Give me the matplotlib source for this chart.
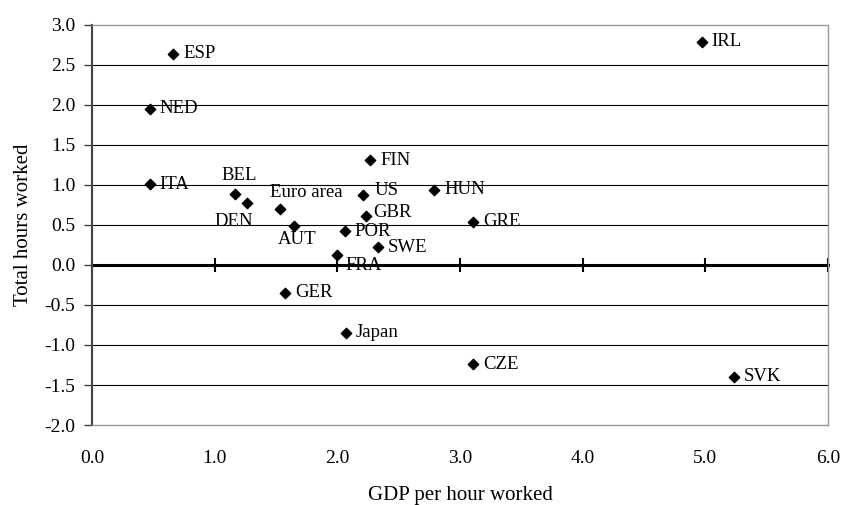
import matplotlib
matplotlib.use("Agg")
import matplotlib.pyplot as plt

countries = ["ESP", "NED", "ITA", "BEL", "DEN", "Euro area", "AUT", "FIN", "US", "GBR",
             "POR", "SWE", "FRA", "HUN", "GRE", "GER", "IRL", "Japan", "CZE", "SVK"]
gdp_per_hour = [0.66, 0.47, 0.47, 1.165, 1.26, 1.53, 1.65, 2.27, 2.21, 2.23,
                2.06, 2.33, 2.00, 2.79, 3.11, 1.575, 4.97, 2.07, 3.11, 5.23]
hours_worked = [2.64, 1.955, 1.01, 0.89, 0.77, 0.70, 0.49, 1.31, 0.87, 0.61,
                0.42, 0.22, 0.12, 0.94, 0.54, -0.35, 2.79, -0.85, -1.24, -1.40]

x_ticks = [0, 1, 2, 3, 4, 5, 6]
y_ticks = [-2.0, -1.5, -1.0, -0.5, 0.0, 0.5, 1.0, 1.5, 2.0, 2.5, 3.0]

# label offsets in pixels (dx, dy, ha, va)
offsets = {
    "BEL": (4, 18, "center", "center"),
    "DEN": (-13, -18, "center", "center"),
    "Euro area": (27, 16, "center", "center"),
    "AUT": (3, -14, "center", "center"),
    "FRA": (8, -10, "left", "center"),
    "US": (11, 5, "left", "center"),
    "GBR": (8, 4, "left", "center"),
}

plt.rcParams['font.family'] = ['Liberation Serif', 'DejaVu Serif']

fig = plt.figure(figsize=(8.43, 5.05), dpi=100)
ax = fig.add_axes([92/843, 1 - 425/505, (828-92)/843, 400/505])

ax.set_xlim(0, 6)
ax.set_ylim(-2, 3)

for yv in y_ticks:
    if yv not in (-2.0, 3.0, 0.0):
        ax.axhline(yv, color="black", lw=0.8, zorder=1)

ax.scatter(gdp_per_hour, hours_worked, marker="D", s=28, color="black", zorder=3)

for name, xv, yv in zip(countries, gdp_per_hour, hours_worked):
    dx, dy, ha, va = offsets.get(name, (10, 0, "left", "center"))
    ax.annotate(name, (xv, yv), xytext=(dx, dy), textcoords="offset pixels",
                ha=ha, va=va, fontsize=13.5, zorder=4)

ax.set_xticks(x_ticks)
ax.set_xticklabels([f"{v:.1f}" for v in x_ticks], fontsize=14)
ax.set_yticks(y_ticks)
ax.set_yticklabels([f"{v:.1f}" for v in y_ticks], fontsize=14)
ax.tick_params(axis="x", length=0, pad=18)
ax.tick_params(axis="y", length=6, width=1, color="#444444", direction="out", pad=6)

for s in ["top", "right", "bottom"]:
    ax.spines[s].set_color("#999999")
    ax.spines[s].set_linewidth(1)
ax.spines["left"].set_color("#444444")
ax.spines["left"].set_linewidth(1.5)

# zero axis with crossing ticks
sec = ax.secondary_xaxis(0.4)
sec.set_xticks(x_ticks)
sec.set_xticklabels([])
sec.tick_params(axis="x", direction="inout", length=10, width=1.5, color="black")
sec.spines["bottom"].set_linewidth(2.2)
sec.spines["bottom"].set_color("black")

ax.set_xlabel("GDP per hour worked", fontsize=15, labelpad=14)
ax.set_ylabel("Total hours worked", fontsize=15, labelpad=8)

fig.savefig("out.png", dpi=100)
